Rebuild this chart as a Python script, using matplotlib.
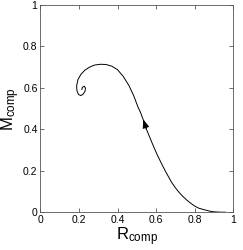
import matplotlib.pyplot as plt

# trajectory (R_comp, M_comp)
r_comp = [0.96, 0.93, 0.90, 0.88, 0.85, 0.82, 0.80, 0.78, 0.76, 0.74, 0.72,
          0.70, 0.68, 0.665, 0.65, 0.635, 0.62, 0.607, 0.595, 0.582, 0.57,
          0.56, 0.55, 0.537, 0.52, 0.505, 0.485, 0.46, 0.43, 0.40, 0.37, 0.34,
          0.31, 0.28, 0.255, 0.23, 0.21, 0.195, 0.188, 0.19, 0.198, 0.21,
          0.222, 0.232, 0.234, 0.227, 0.218, 0.215]
m_comp = [0.0, 0.0005, 0.002, 0.005, 0.012, 0.02, 0.03, 0.043, 0.058, 0.075,
          0.095, 0.118, 0.145, 0.17, 0.195, 0.222, 0.25, 0.275, 0.30, 0.328,
          0.355, 0.378, 0.40, 0.437, 0.48, 0.51, 0.56, 0.61, 0.655, 0.688,
          0.705, 0.713, 0.714, 0.71, 0.70, 0.685, 0.665, 0.64, 0.61, 0.585,
          0.568, 0.563, 0.57, 0.585, 0.60, 0.608, 0.603, 0.592]

ticks = [0, 0.2, 0.4, 0.6, 0.8, 1]
tick_labels = ['0', '0.2', '0.4', '0.6', '0.8', '1']

plt.rcParams['font.family'] = ['Liberation Sans', 'DejaVu Sans']
plt.rcParams['mathtext.fontset'] = 'custom'
plt.rcParams['mathtext.rm'] = 'Liberation Sans'

fig = plt.figure(figsize=(2.43, 2.5), dpi=100)
ax = fig.add_axes([0.166, 0.151, 0.794, 0.829])

ax.plot(r_comp, m_comp, color='black', lw=0.7)

# direction arrow on the curve
i = r_comp.index(0.537)
ax.annotate('', xy=(r_comp[i] - 0.003, m_comp[i] + 0.01),
            xytext=(r_comp[i - 1], m_comp[i - 1]),
            arrowprops=dict(arrowstyle='-|>,head_length=0.5,head_width=0.2',
                            color='black', lw=0.7, shrinkA=0, shrinkB=0))

ax.set_xlim(0, 1)
ax.set_ylim(0, 1)
ax.set_xticks(ticks)
ax.set_xticklabels(tick_labels)
ax.set_yticks(ticks)
ax.set_yticklabels(tick_labels)
ax.tick_params(direction='in', top=True, right=True, length=3, width=0.5,
               labelsize=7.5, pad=2, colors='#333333', labelcolor='black')
for s in ax.spines.values():
    s.set_linewidth(0.6)
    s.set_color('#555555')

ax.set_xlabel(r'$\mathregular{R_{comp}}$', fontsize=12, labelpad=0)
ax.set_ylabel(r'$\mathregular{M_{comp}}$', fontsize=12, labelpad=1)

fig.savefig('out.png', dpi=100)
